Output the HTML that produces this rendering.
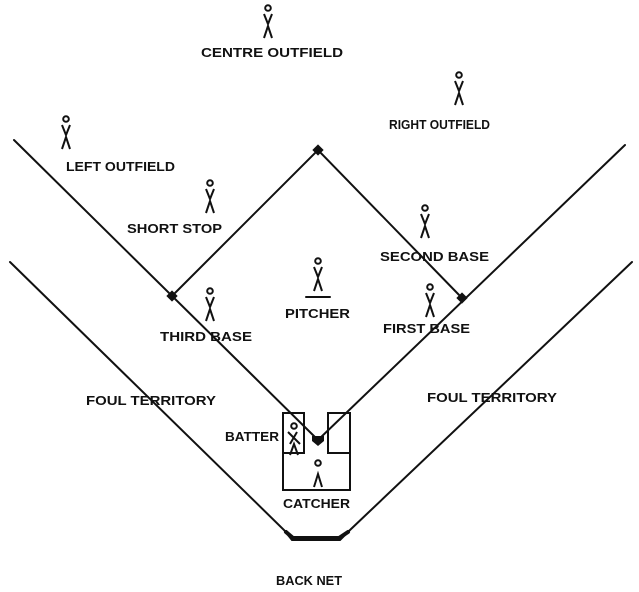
<!DOCTYPE html>
<html><head><meta charset="utf-8"><style>
html,body{margin:0;padding:0;background:#fff;}
svg{display:block;}
text{font-family:"Liberation Sans",sans-serif;font-size:13px;font-weight:bold;fill:#111;}
</style></head><body>
<svg id="s" width="639" height="592" viewBox="0 0 639 592">
<g stroke="#111" stroke-width="2" fill="none" stroke-linecap="round">
<polyline points="14,140 318,440"/>
<polyline points="625,145 318,440"/>
<polyline points="172,296 318,150 462,298"/>
<polyline points="10,262 284,530 292,540 340,540 350,530 632,262"/>
<polyline stroke-width="4" points="286,532 293,538 339,538 348,532"/>
<rect x="283" y="413" width="21" height="40"/>
<rect x="328" y="413" width="22" height="40"/>
<polyline points="283,453 283,490 350,490 350,453"/>
<line x1="306" y1="297" x2="330" y2="297"/>
</g>
<g fill="#111">
<rect x="314" y="146" width="8" height="8" transform="rotate(45 318 150)"/>
<rect x="168" y="292" width="8" height="8" transform="rotate(45 172 296)"/>
<rect x="458" y="294" width="8" height="8" transform="rotate(45 462 298)"/>
<polygon points="312,436 324,436 324,441 318,446 312,441"/>
</g>
<g id="players"></g>
<g lengthAdjust="spacingAndGlyphs">
<text x="201" y="57" textLength="142" lengthAdjust="spacingAndGlyphs">CENTRE OUTFIELD</text>
<text x="389" y="129" textLength="101" lengthAdjust="spacingAndGlyphs">RIGHT OUTFIELD</text>
<text x="66" y="171" textLength="109" lengthAdjust="spacingAndGlyphs">LEFT OUTFIELD</text>
<text x="127" y="233" textLength="95" lengthAdjust="spacingAndGlyphs">SHORT STOP</text>
<text x="380" y="261" textLength="109" lengthAdjust="spacingAndGlyphs">SECOND BASE</text>
<text x="285" y="318" textLength="65" lengthAdjust="spacingAndGlyphs">PITCHER</text>
<text x="160" y="341" textLength="92" lengthAdjust="spacingAndGlyphs">THIRD BASE</text>
<text x="383" y="333" textLength="87" lengthAdjust="spacingAndGlyphs">FIRST BASE</text>
<text x="86" y="405" textLength="130" lengthAdjust="spacingAndGlyphs">FOUL TERRITORY</text>
<text x="427" y="402" textLength="130" lengthAdjust="spacingAndGlyphs">FOUL TERRITORY</text>
<text x="225" y="441" textLength="54" lengthAdjust="spacingAndGlyphs">BATTER</text>
<text x="283" y="508" textLength="67" lengthAdjust="spacingAndGlyphs">CATCHER</text>
<text x="276" y="585" textLength="66" lengthAdjust="spacingAndGlyphs">BACK NET</text>
</g>
</svg>
<script>
var names=["centre-outfielder","right-outfielder","left-outfielder","short-stop","second-baseman","pitcher","third-baseman","first-baseman","batter","catcher"];
var px=[268,459,66,210,425,318,210,430,294,318];
var py=[5,72,116,180,205,258,288,284,423,460];
var g=document.getElementById('players');
var NS="http://www.w3.org/2000/svg";
for(var i=0;i<names.length;i++){
  var x=px[i],y=py[i];
  var grp=document.createElementNS(NS,'g');
  
  
  grp.setAttribute('stroke','#111');grp.setAttribute('fill','none');grp.setAttribute('stroke-width','2');
  var c=document.createElementNS(NS,'circle');
  c.setAttribute('cx',x);c.setAttribute('cy',y+3);c.setAttribute('r',2.8);
  grp.appendChild(c);
  var d;
  if(names[i]==='catcher'){
    d='M'+(x-4)+','+(y+27)+' L'+x+','+(y+14)+' L'+(x+4)+','+(y+27);
  } else if(names[i]==='batter'){
    d='M'+(x-6)+','+(y+9)+' L'+(x+6)+','+(y+21)+' M'+(x+3)+','+(y+9)+' L'+(x-4)+','+(y+21)+' M'+(x-4)+','+(y+32)+' L'+x+','+(y+21)+' L'+(x+4)+','+(y+32);
  } else {
    d='M'+(x-4)+','+(y+9)+' L'+x+','+(y+19)+' L'+(x+4)+','+(y+9)+' M'+(x-4)+','+(y+33)+' L'+x+','+(y+21)+' L'+(x+4)+','+(y+33);
  }
  var p=document.createElementNS(NS,'path');
  p.setAttribute('d',d);
  grp.appendChild(p);
  g.appendChild(grp);
}
</script>
</body></html>
